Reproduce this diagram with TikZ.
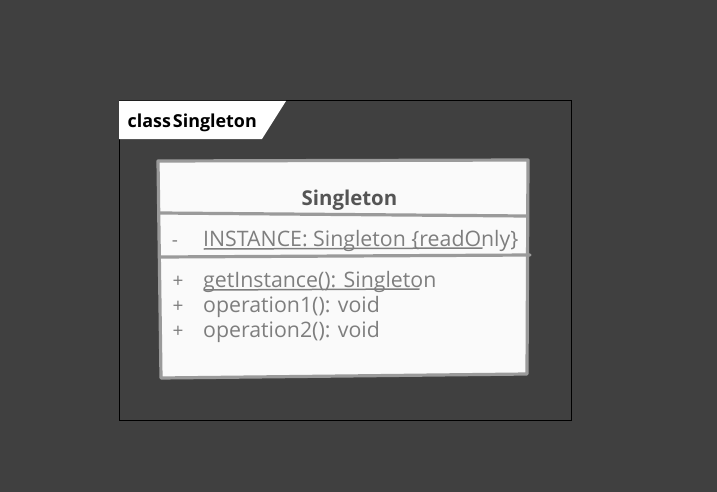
\documentclass[tikz,border=0pt]{standalone}
\usepackage{fontspec}
\setmainfont{Open Sans}
\definecolor{bgc}{HTML}{404040}
\definecolor{boxfill}{HTML}{FAFAFA}
\definecolor{boxline}{HTML}{9A9A9A}
\definecolor{txtc}{HTML}{7E7E7E}
\definecolor{titlec}{HTML}{555555}
\tikzset{
  sketch/.style={draw=boxline, line width=3.2pt, line join=round, line cap=round},
  member/.style={anchor=base west, inner sep=0pt, text=txtc, font=\fontsize{21.3}{21.3}\selectfont},
  vis/.style={anchor=base, inner sep=0pt, text=txtc, font=\fontsize{19}{19}\selectfont},
  uline/.style={draw=txtc, line width=1.5pt, line cap=round},
}
\begin{document}
\begin{tikzpicture}[x=1pt,y=-1pt]
\useasboundingbox (0,0) rectangle (717,492);
\fill[bgc] (0,0) rectangle (717,492);
% frame
\draw[black, line width=1pt] (119,101) rectangle (571,420);
\fill[white] (119,101) -- (286,101) -- (262,139) -- (119,139) -- cycle;
\node[anchor=base west, inner sep=0pt, font=\fontsize{17.9}{17.9}\selectfont\bfseries] (tab) at (127.5,127.5) {class\hspace{2pt}Singleton};
% class box
\coordinate (tl) at (158,161);
\coordinate (tr) at (528,160);
\coordinate (br) at (527,374);
\coordinate (bl) at (161,378);
\filldraw[sketch, fill=boxfill] (tl) -- (tr) -- (br) -- (bl) -- cycle;
\coordinate (s1a) at (160,213);
\coordinate (s1b) at (526,216);
\coordinate (s2a) at (160,257);
\coordinate (s2b) at (530,255);
\draw[sketch] (s1a) -- (s1b);
\draw[sketch] (s2a) -- (s2b);
\node[anchor=base, inner sep=0pt, text=titlec, font=\fontsize{20.4}{20.4}\selectfont\bfseries] (title) at (349.5,205) {Singleton};
\node[vis] (v1) at (175,246) {-};
\node[member] (a1) at (203,246.5) {INSTANCE: Singleton \{readOnly\}};
\node[vis] (v2) at (178,287) {+};
\node[member] (m1) at (203,287) {getInstance(): Singleton};
\node[vis] (v3) at (178,312) {+};
\node[member] (m2) at (203,312) {operation1(): void};
\node[vis] (v4) at (178,337) {+};
\node[member] (m3) at (203,337) {operation2(): void};
\coordinate (u1a) at (204,249);
\coordinate (u1b) at (482,248);
\coordinate (u2a) at (204,290);
\coordinate (u2b) at (419,289);
\draw[uline] (u1a) -- (u1b);
\draw[uline] (u2a) -- (u2b);
\end{tikzpicture}
\end{document}
